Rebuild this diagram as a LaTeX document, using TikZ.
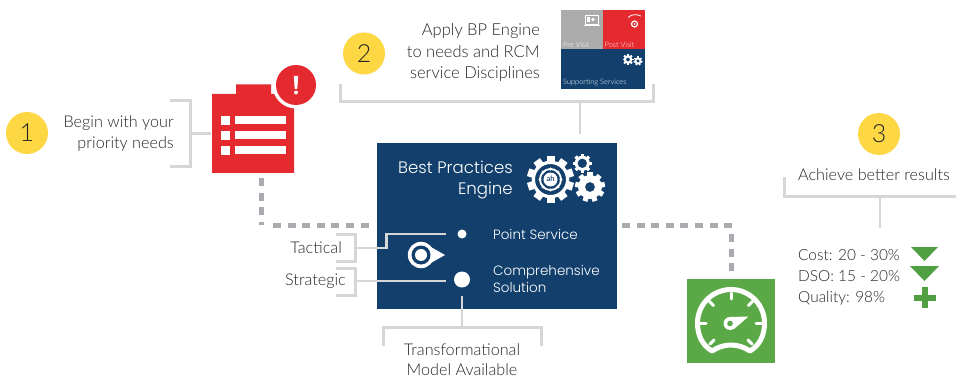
\documentclass[tikz,border=0pt]{standalone}
\usepackage{fontspec}
\setmainfont{Lato}[UprightFont=* Light]
\newfontfamily\boxfont{Poppins}[UprightFont=* Light]
\usetikzlibrary{calc}
\definecolor{navy}{HTML}{123F6C}
\definecolor{sun}{HTML}{FDD844}
\definecolor{redc}{HTML}{E4292F}
\definecolor{greenc}{HTML}{5AA846}
\definecolor{greentri}{HTML}{519F43}
\definecolor{dashc}{HTML}{A9ABAE}
\definecolor{brk}{HTML}{D6D6D6}
\definecolor{ink}{HTML}{262626}
\definecolor{panelgrey}{HTML}{ABABAB}
\newcommand{\gearshape}[5]{% x,y,outer radius,inner hole radius,teeth
  \fill[white,even odd rule]
    (#1,#2) circle[radius=#3*0.8] (#1,#2) circle[radius=#4];
  \foreach \aa in {1,...,#5}{
    \fill[white,rotate around={\aa*360/#5:(#1,#2)}]
      (#1-#3*0.17,#2-#3*0.7) rectangle (#1+#3*0.17,#2-#3);
  }
}
\tikzset{
  badge/.style={circle,fill=sun,minimum size=42pt,inner sep=0pt,text=ink,font=\fontsize{25}{25}\selectfont},
  lab/.style={text=ink,inner sep=0pt,font=\fontsize{16.2}{21}\selectfont},
  metric/.style={text=ink,inner sep=0pt,font=\fontsize{15.4}{21}\selectfont},
  boxlab/.style={text=white,inner sep=0pt,font=\boxfont\fontsize{13.5}{17}\selectfont},
  bracket/.style={draw=brk,line width=3pt,line join=miter},
  dashline/.style={draw=dashc,line width=5pt,dash pattern=on 8pt off 6.6pt},
  wline/.style={draw=brk,line width=2.8pt},
  tiny/.style={text=white,inner sep=0pt,anchor=west,font=\fontsize{7.4}{8}\selectfont},
}
\begin{document}
\begin{tikzpicture}[x=1pt,y=-1pt]
\useasboundingbox (0,0) rectangle (956,377);
\fill[white] (0,0) rectangle (956,377);

% step 1
\node[badge] (b1) at (27,133) {1};
\node[lab,align=right,anchor=east] (t1) at (174,133.5) {Begin with your\\priority needs};
\coordinate (c1a) at (170,101); \coordinate (c1b) at (170,167);
\coordinate (c1c) at (190,134); \coordinate (c1d) at (211,134);
\draw[bracket] (c1a) -| (c1c) |- (c1b);
\draw[bracket] (c1c) -- (c1d);

% clipboard
\fill[redc] (212,94) -- (236,94) -- (236,84.5) -- (271,84.5) -- (271,94) -- (294,94) -- (294,173) -- (212,173) -- cycle;
\foreach \yy in {116,131,146}{
  \fill[white] (221,\yy) rectangle (230,\yy+9);
  \fill[white] (235,\yy) rectangle (286,\yy+8.5);
}
\fill[white] (296,85) circle[radius=23.5];
\node[circle,fill=redc,minimum size=40pt,inner sep=0pt] (alert) at (296,85) {};
\fill[white] (293.8,76) -- (298.2,76) -- (297.3,89) -- (294.7,89) -- cycle;
\fill[white] (296,92.5) circle[radius=2];

% main box
\node[fill=navy,minimum width=239.5pt,minimum height=166pt,inner sep=0pt,anchor=north west] (engine) at (377,142.5) {};
\node[text=white,inner sep=0pt,align=right,anchor=east,font=\boxfont\fontsize{16.6}{21.5}\selectfont] (title) at (513,180) {Best Practices\\Engine};
\gearshape{550.5}{179.5}{23.5}{15.5}{10}
\draw[white,line width=1.8pt] (550.5,179.5) circle[radius=10.5];
\foreach \aa in {0,45,...,315}{\fill[white] ($(550.5,179.5)+(\aa:10.5)$) circle[radius=1.7];}
\fill[white] (550.5,179.5) circle[radius=7];
\node[text=navy,inner sep=0pt,font=\fontsize{7.5}{8}\bfseries\selectfont] (ah) at (550.5,179) {ah};
\gearshape{582.3}{163.3}{9.5}{4.8}{8}
\gearshape{590}{187}{15}{5}{9}

\node[boxlab,anchor=west] (ps) at (493,234) {Point Service};
\node[boxlab,align=left,anchor=west] (cs) at (493,278.5) {Comprehensive\\Solution};
\node[circle,fill=white,minimum size=9pt,inner sep=0pt] (d1) at (462,234) {};
\node[circle,fill=white,minimum size=16pt,inner sep=0pt] (d2) at (462,279.5) {};

% target icon
\fill[white] (430,246.5) -- (445,255) -- (430,263.5) -- cycle;
\fill[white] (421,255) circle[radius=13.2];
\fill[navy] (421,255) circle[radius=9.5];
\fill[white] (421,255) circle[radius=6];

% tactical / strategic
\node[lab,anchor=east] (tac) at (342,248) {Tactical};
\node[lab,anchor=east] (str) at (346,281) {Strategic};
\coordinate (tA) at (336,234); \coordinate (tB) at (336,261);
\coordinate (tM) at (355,248); \coordinate (tE) at (446,234);
\coordinate (tK) at (386.5,248);
\draw[bracket] (tA) -| (tM) |- (tB);
\draw[wline,line join=miter] (tM) -- (tK) |- (tE);
\coordinate (sA) at (336,268); \coordinate (sB) at (336,295);
\coordinate (sM) at (355,281); \coordinate (sE) at (446,281);
\draw[bracket] (sA) -| (sM) |- (sB);
\draw[wline] (sM) -- (sE);

% transformational
\coordinate (mS) at (462,295.5); \coordinate (mJ) at (462,327);
\coordinate (mL) at (383.5,346); \coordinate (mR) at (541,346);
\coordinate (mLt) at (383.5,327); \coordinate (mRt) at (541,327);
\draw[wline] (mS) -- (mJ);
\draw[bracket] (mL) -- (mLt) -- (mRt) -- (mR);
\node[lab,align=center,font=\fontsize{16.2}{20}\selectfont] (tm) at (462,359.5) {Transformational\\Model Available};

% step 2
\node[badge] (b2) at (364,53.5) {2};
\node[lab,align=right,anchor=east,font=\fontsize{16.5}{21.5}\selectfont] (t2) at (540,52.5) {Apply BP Engine\\to needs and RCM\\service Disciplines};
\fill[panelgrey] (561,10) rectangle (603,49.5);
\fill[redc] (603,10) rectangle (645,49.5);
\fill[navy] (561,49.5) rectangle (645,89);
\node[tiny] (pv) at (563,44.5) {Pre Visit};
\node[tiny] (po) at (604.5,44.5) {Post Visit};
\node[tiny] (ss) at (563,82.5) {Supporting Services};
% panel glyphs
\draw[white,line width=.8pt] (585,15) rectangle (598,24);
\draw[white,line width=1pt] (583.5,25.5) -- (599.5,25.5);
\fill[white] (587,17) rectangle (590,22);
\fill[white] (593,19.5) circle[radius=1.8];
\draw[white,line width=.8pt] (628,17.5) .. controls (632,14) and (636,14) .. (641,16);
\draw[white,line width=1.2pt] (634.5,24) circle[radius=3];
\fill[white] (634.5,24) circle[radius=1];
\gearshape{628}{59.5}{5.5}{2}{8}
\gearshape{638}{61}{4.5}{1.8}{7}
\coordinate (p2L) at (340.5,84); \coordinate (p2R) at (653.5,84);
\coordinate (p2Lb) at (340.5,102); \coordinate (p2Rb) at (653.5,102);
\coordinate (p2J) at (580,102); \coordinate (p2E) at (580,134);
\draw[bracket] (p2L) -- (p2Lb) -- (p2Rb) -- (p2R);
\draw[wline] (p2J) -- (p2E);

% dashed connectors
\coordinate (dA) at (261,178); \coordinate (dB) at (261,225);
\coordinate (dC) at (369.5,225);
\draw[dashline] (dA) -- (dB);
\draw[dashline,dash phase=0pt] (273,225) -- (dC);
\coordinate (dD) at (622,225); \coordinate (dE) at (733.5,225);
\coordinate (dF) at (731,234); \coordinate (dG) at (731,272);
\draw[dashline] (dD) -- (dE);
\draw[dashline] (dF) -- (dG);

% gauge
\node[fill=greenc,minimum width=88pt,minimum height=84pt,inner sep=0pt,anchor=north west] (gauge) at (687,279) {};
\begin{scope}[line cap=round]
\draw[white,line width=5pt,line join=round] (712,351) .. controls (702,345) and (697.5,335) .. (697.5,323) arc[start angle=180,delta angle=180,radius=33.5] .. controls (764.5,335) and (760,345) .. (750,351) .. controls (738,343) and (724,343) .. (712,351) -- cycle;
\draw[white,line width=3pt] (731,293) -- (731,299);
\draw[white,line width=3pt] (709.5,301.5) -- (713.5,305.5);
\draw[white,line width=3pt] (752.5,301.5) -- (748.5,305.5);
\draw[white,line width=3pt] (700,323) -- (706,323);
\draw[white,line width=3pt] (762,323) -- (756,323);
\draw[white,line width=3pt] (710,344) -- (714,340);
\draw[white,line width=3pt] (752,344) -- (748,340);
\end{scope}
\fill[white] (730,317) -- (748.5,316.5) -- (734,329) -- cycle;
\fill[white] (730,323.5) circle[radius=6.5];
\fill[greenc] (730,323.5) circle[radius=2.8];

% step 3
\node[badge] (b3) at (879,134) {3};
\node[lab,anchor=center] (t3) at (874,175) {Achieve better results};
\coordinate (r3a) at (784.5,177); \coordinate (r3b) at (956,196);
\coordinate (r3c) at (880,197); \coordinate (r3d) at (880,228);
\draw[bracket] (r3a) |- (r3b);
\draw[wline] (r3c) -- (r3d);
\node[metric,anchor=west] (cost) at (798,255) {Cost: 20 - 30\%};
\node[metric,anchor=west] (dso) at (798,276.5) {DSO: 15 - 20\%};
\node[metric,anchor=west] (qual) at (798,298) {Quality: 98\%};
\fill[greentri] (911,247) -- (938,247) -- (924.5,261) -- cycle;
\fill[greentri] (910,266) -- (939,266) -- (924.5,281) -- cycle;
\fill[greentri] (914,294.5) rectangle (936,300.5);
\fill[greentri] (922,287) rectangle (928,308);
\end{tikzpicture}
\end{document}
